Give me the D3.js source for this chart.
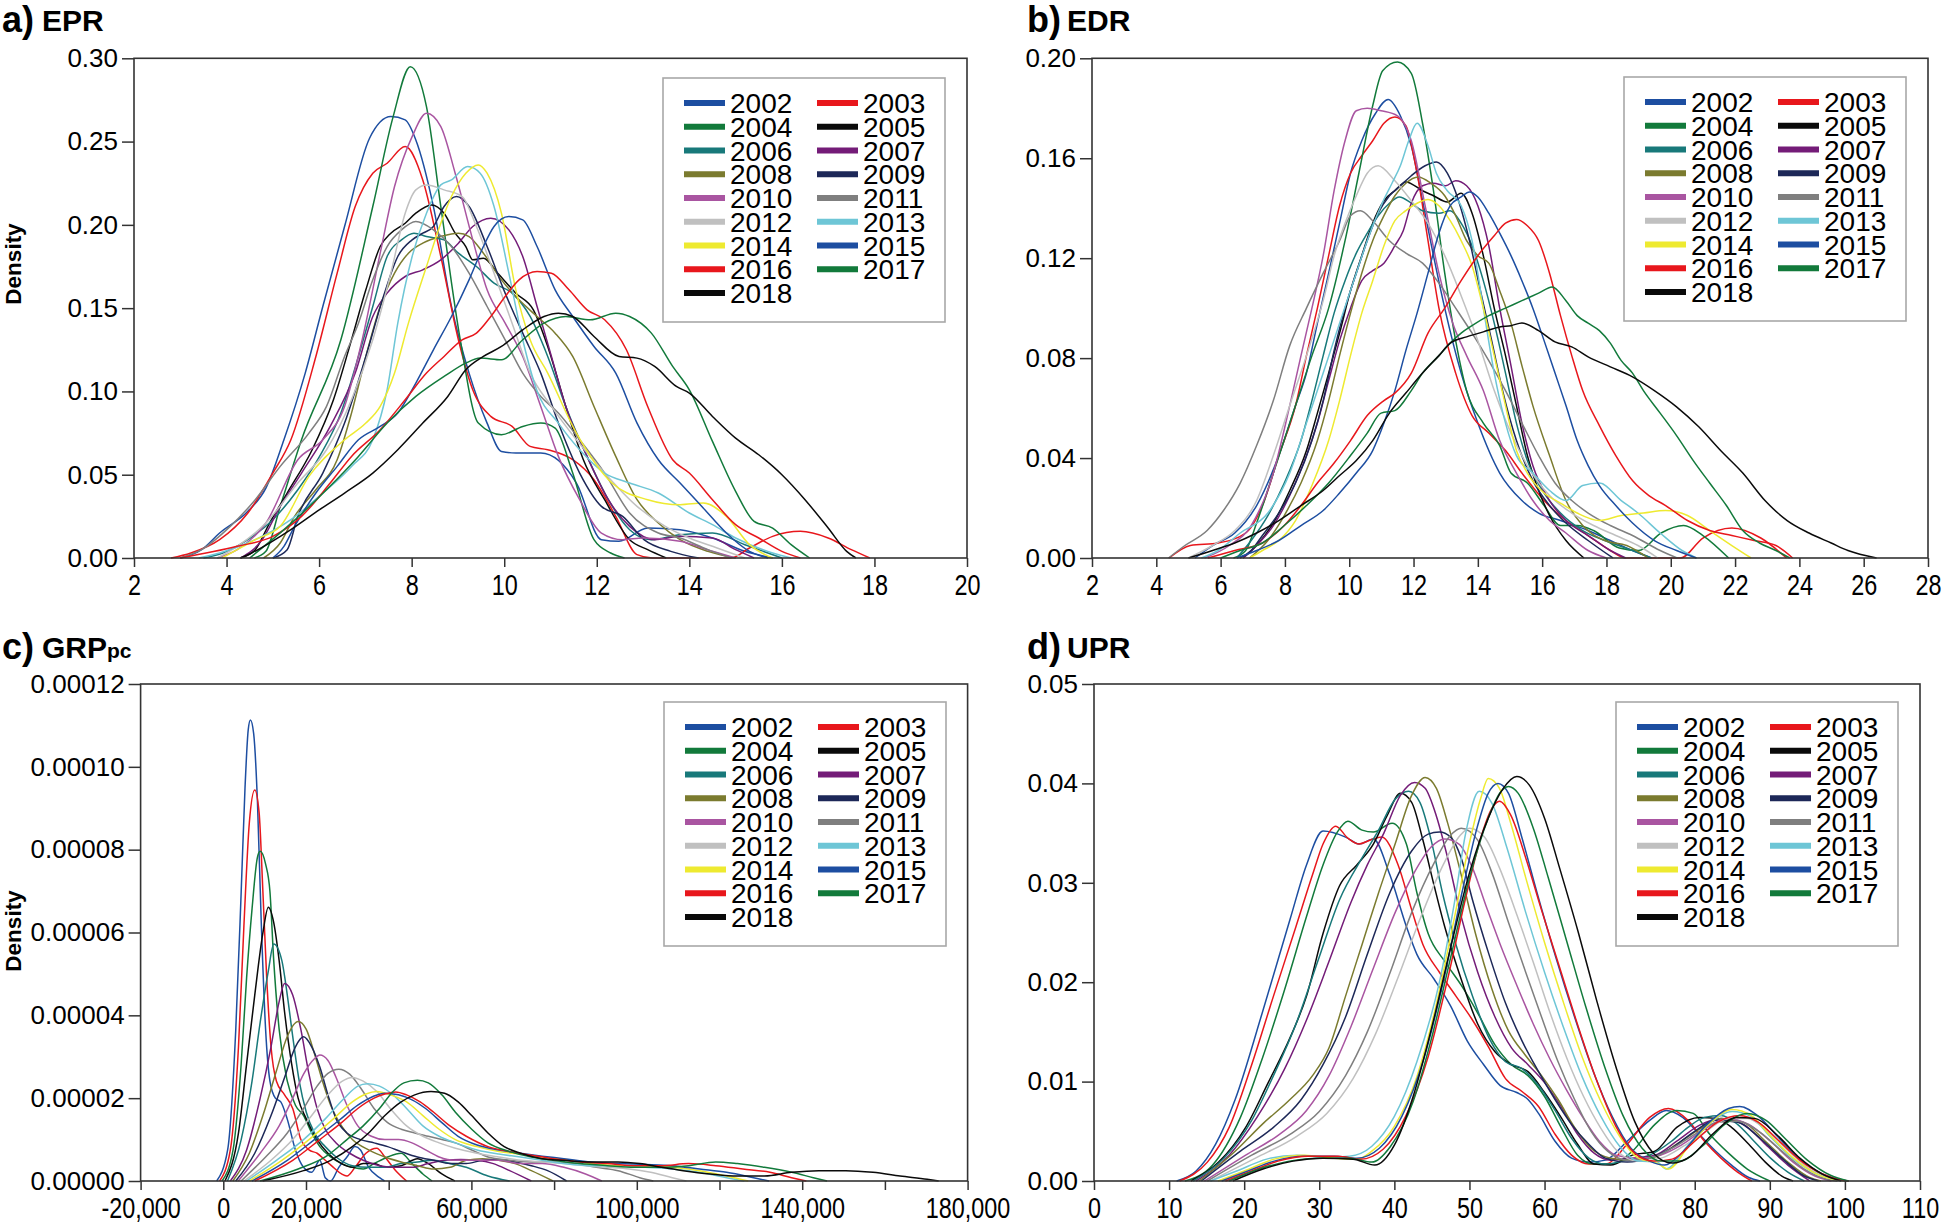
<!DOCTYPE html>
<html><head><meta charset="utf-8">
<script src="https://cdn.jsdelivr.net/npm/d3@7"></script>
<style>
body{margin:0;background:#fff;}
svg{display:block;}
text{font-family:"Liberation Sans",Arial,sans-serif;}
</style></head><body>
<svg id="chart" width="1946" height="1226"></svg>
<script>
const years = [2002,2003,2004,2005,2006,2007,2008,2009,2010,2011,2012,2013,2014,2015,2016,2017,2018];
const yearColors = ["#1d4ea1","#e8171c","#127a3b","#0a0a0a","#18797a","#741c78","#7b7b2f","#1d2858","#a955a1","#7f7f7f","#c0c0c0","#6ec6d6","#eeea30","#1d4ea1","#e8171c","#127a3b","#0a0a0a"];

// ---- a) EPR : [x, density]
const eprXTicks = [2,4,6,8,10,12,14,16,18,20];
const eprYTicks = [0,0.05,0.10,0.15,0.20,0.25,0.30];
const eprCurves = [
[[3.0,0],[3.46,0.005],[3.85,0.015],[4.46,0.028],[4.85,0.042],[5.24,0.071],[5.7,0.111],[6.08,0.151],[6.55,0.199],[7.09,0.252],[7.55,0.265],[7.86,0.263],[8.09,0.251],[8.47,0.211],[8.86,0.151],[9.24,0.111],[9.63,0.081],[9.94,0.064],[10.25,0.063],[10.79,0.063],[11.56,0.045],[12.1,0.011],[12.48,0.010],[13.1,0.018],[13.8,0.017],[14.5,0.012],[15.2,0.004],[15.8,0]],
[[2.8,0],[3.23,0.003],[3.85,0.011],[4.46,0.027],[5.0,0.051],[5.39,0.071],[5.93,0.121],[6.39,0.171],[6.78,0.211],[7.16,0.231],[7.47,0.237],[7.86,0.247],[8.24,0.227],[8.63,0.181],[9.01,0.131],[9.32,0.101],[9.71,0.085],[10.17,0.079],[10.56,0.067],[10.94,0.065],[11.48,0.059],[11.94,0.047],[12.41,0.025],[12.87,0.002],[13.2,0],[14.9,0],[15.3,0.006],[15.8,0.013],[16.4,0.016],[17.0,0.012],[17.5,0.005],[17.9,0]],
[[4.6,0],[4.85,0.004],[5.16,0.031],[5.62,0.071],[6.47,0.131],[7.16,0.211],[7.6,0.265],[7.97,0.295],[8.32,0.271],[8.63,0.211],[9.05,0.131],[9.44,0.081],[9.94,0.074],[10.4,0.079],[10.79,0.081],[11.1,0.078],[11.48,0.051],[11.94,0.011],[12.3,0.003],[12.6,0]],
[[4.3,0],[4.62,0.005],[4.93,0.021],[5.31,0.039],[5.85,0.065],[6.31,0.095],[6.7,0.131],[7.01,0.161],[7.32,0.187],[7.55,0.195],[7.86,0.201],[8.09,0.207],[8.43,0.212],[8.7,0.207],[8.94,0.195],[9.17,0.187],[9.32,0.179],[9.55,0.18],[9.86,0.171],[10.25,0.159],[10.63,0.149],[10.94,0.127],[11.33,0.091],[11.71,0.059],[12.17,0.035],[12.71,0.011],[13.1,0.005],[13.5,0]],
[[3.5,0],[3.92,0.003],[4.46,0.011],[5.0,0.023],[5.54,0.041],[6.01,0.061],[6.47,0.087],[6.85,0.121],[7.16,0.151],[7.47,0.181],[7.78,0.191],[8.05,0.195],[8.32,0.193],[8.7,0.191],[9.01,0.183],[9.4,0.175],[9.78,0.165],[10.17,0.159],[10.56,0.145],[10.94,0.121],[11.33,0.091],[11.79,0.061],[12.25,0.035],[12.71,0.017],[13.18,0.011],[13.8,0.014],[14.5,0.015],[15.2,0.008],[16.0,0]],
[[4.3,0],[4.77,0.011],[5.16,0.031],[5.62,0.051],[6.24,0.079],[6.78,0.111],[7.16,0.145],[7.47,0.159],[7.86,0.169],[8.24,0.173],[8.63,0.179],[9.01,0.189],[9.32,0.199],[9.71,0.204],[10.1,0.197],[10.4,0.181],[10.71,0.151],[11.02,0.121],[11.33,0.091],[11.79,0.061],[12.25,0.035],[12.71,0.019],[13.25,0.011],[13.8,0.013],[14.5,0.012],[15.0,0.005],[15.4,0]],
[[4.8,0],[5.16,0.009],[5.47,0.025],[5.93,0.041],[6.39,0.059],[6.7,0.087],[7.01,0.121],[7.32,0.151],[7.63,0.171],[7.93,0.183],[8.24,0.189],[8.63,0.193],[9.01,0.195],[9.24,0.193],[9.55,0.183],[9.94,0.167],[10.32,0.155],[10.71,0.145],[11.1,0.135],[11.48,0.121],[11.94,0.091],[12.41,0.061],[12.87,0.035],[13.33,0.021],[13.8,0.011],[14.4,0.004],[15.0,0]],
[[5.0,0],[5.31,0.005],[5.54,0.025],[6.08,0.051],[6.55,0.081],[7.01,0.121],[7.39,0.157],[7.7,0.181],[8.01,0.191],[8.24,0.195],[8.47,0.199],[8.7,0.211],[8.97,0.217],[9.24,0.211],[9.63,0.187],[10.02,0.159],[10.4,0.135],[10.79,0.111],[11.17,0.081],[11.63,0.051],[12.1,0.031],[12.56,0.025],[13.02,0.011],[13.6,0.004],[14.2,0]],
[[3.8,0],[4.23,0.005],[4.85,0.021],[5.54,0.059],[6.08,0.071],[6.55,0.091],[6.93,0.131],[7.32,0.183],[7.63,0.223],[8.01,0.253],[8.32,0.267],[8.63,0.259],[8.94,0.231],[9.32,0.191],[9.63,0.161],[10.02,0.141],[10.4,0.121],[10.79,0.091],[11.17,0.061],[11.63,0.035],[12.1,0.015],[12.56,0.011],[13.0,0.012],[13.8,0.010],[14.5,0.004],[15.0,0]],
[[3.0,0],[3.46,0.005],[4.08,0.019],[4.62,0.035],[5.16,0.055],[5.78,0.075],[6.16,0.091],[6.55,0.121],[6.85,0.141],[7.16,0.167],[7.47,0.187],[7.78,0.197],[8.09,0.202],[8.47,0.197],[8.86,0.187],[9.24,0.171],[9.63,0.151],[10.02,0.131],[10.4,0.111],[10.79,0.097],[11.17,0.087],[11.63,0.071],[12.17,0.051],[12.71,0.027],[13.33,0.015],[13.8,0.012],[14.4,0.005],[14.9,0]],
[[3.8,0],[4.23,0.007],[4.85,0.021],[5.54,0.045],[6.16,0.065],[6.7,0.095],[7.16,0.131],[7.55,0.171],[7.86,0.207],[8.09,0.221],[8.32,0.224],[8.7,0.221],[9.09,0.217],[9.4,0.199],[9.78,0.171],[10.17,0.141],[10.56,0.111],[11.02,0.091],[11.56,0.071],[12.17,0.051],[12.87,0.031],[13.48,0.019],[14.0,0.012],[14.6,0.006],[15.2,0]],
[[3.4,0],[3.85,0.003],[4.62,0.011],[5.39,0.023],[6.08,0.039],[6.7,0.055],[7.16,0.071],[7.47,0.101],[7.7,0.141],[8.01,0.181],[8.32,0.207],[8.63,0.224],[8.86,0.227],[9.21,0.235],[9.48,0.231],[9.78,0.211],[10.1,0.171],[10.4,0.131],[10.7,0.101],[11.17,0.081],[11.63,0.065],[12.17,0.051],[12.71,0.045],[13.33,0.039],[14.0,0.027],[14.5,0.02],[15.0,0.012],[15.8,0.003],[16.2,0]],
[[3.9,0],[4.23,0.005],[4.62,0.011],[5.16,0.019],[5.78,0.049],[6.55,0.071],[7.01,0.081],[7.32,0.091],[7.63,0.111],[7.93,0.141],[8.32,0.175],[8.63,0.201],[8.86,0.217],[9.17,0.231],[9.44,0.236],[9.63,0.231],[9.94,0.207],[10.25,0.161],[10.56,0.131],[10.94,0.111],[11.56,0.075],[12.33,0.045],[13.1,0.035],[13.8,0.032],[14.3,0.033],[14.8,0.025],[15.3,0.008],[15.8,0]],
[[5.0,0],[5.24,0.007],[5.47,0.019],[5.93,0.039],[6.39,0.055],[6.85,0.071],[7.32,0.079],[7.7,0.087],[8.09,0.105],[8.47,0.125],[8.86,0.145],[9.24,0.167],[9.55,0.187],[9.78,0.199],[10.1,0.205],[10.4,0.203],[10.71,0.187],[11.1,0.161],[11.48,0.145],[11.94,0.127],[12.41,0.111],[12.87,0.081],[13.33,0.059],[13.8,0.045],[14.3,0.03],[14.8,0.015],[15.3,0.004],[15.7,0]],
[[3.0,0],[4.23,0.007],[5.0,0.013],[5.62,0.025],[6.24,0.045],[6.7,0.061],[7.32,0.077],[7.86,0.095],[8.32,0.111],[8.7,0.121],[9.09,0.131],[9.4,0.135],[9.71,0.145],[10.02,0.157],[10.32,0.167],[10.71,0.172],[11.02,0.171],[11.4,0.161],[11.79,0.149],[12.17,0.143],[12.64,0.125],[13.1,0.091],[13.64,0.059],[14.0,0.051],[14.5,0.035],[15.0,0.02],[15.5,0.012],[16.0,0.004],[16.4,0]],
[[4.5,0],[5.24,0.017],[6.16,0.041],[6.85,0.061],[7.47,0.081],[8.09,0.097],[8.7,0.109],[9.17,0.117],[9.48,0.120],[9.94,0.119],[10.4,0.131],[10.86,0.141],[11.33,0.145],[11.86,0.143],[12.41,0.147],[12.71,0.145],[13.18,0.135],[13.64,0.115],[14.0,0.101],[14.5,0.07],[15.0,0.04],[15.4,0.022],[15.8,0.018],[16.2,0.008],[16.6,0]],
[[4.3,0],[4.54,0.003],[5.39,0.017],[6.01,0.029],[6.55,0.039],[7.16,0.051],[7.7,0.065],[8.24,0.081],[8.78,0.097],[9.17,0.113],[9.55,0.121],[9.94,0.127],[10.4,0.137],[10.86,0.145],[11.17,0.147],[11.48,0.145],[11.94,0.133],[12.48,0.121],[12.87,0.12],[13.25,0.115],[13.72,0.103],[14.0,0.099],[14.5,0.085],[15.0,0.072],[15.5,0.062],[16.0,0.05],[16.5,0.035],[17.0,0.018],[17.4,0.004],[17.6,0]]
];

// ---- b) EDR : [x, density]
const edrXTicks = [2,4,6,8,10,12,14,16,18,20,22,24,26,28];
const edrYTicks = [0,0.04,0.08,0.12,0.16,0.20];
const edrCurves = [
[[5.2,0],[5.75,0.005],[6.44,0.01],[7.12,0.021],[7.81,0.041],[8.33,0.061],[8.67,0.074],[9.01,0.094],[9.36,0.114],[9.7,0.134],[10.04,0.154],[10.39,0.167],[10.82,0.178],[11.21,0.1835],[11.59,0.177],[11.93,0.165],[12.28,0.143],[12.62,0.121],[12.97,0.1],[13.48,0.074],[14.0,0.054],[14.68,0.034],[15.37,0.023],[15.89,0.018],[16.57,0.015],[17.43,0.011],[18.12,0.007],[18.81,0.003],[19.4,0]],
[[4.4,0],[5.06,0.005],[5.92,0.006],[6.78,0.01],[7.3,0.021],[7.81,0.041],[8.33,0.061],[8.67,0.081],[9.01,0.1],[9.36,0.121],[9.7,0.141],[10.04,0.154],[10.39,0.161],[10.73,0.167],[11.08,0.174],[11.42,0.1765],[11.76,0.173],[12.11,0.154],[12.45,0.127],[12.79,0.1],[13.31,0.074],[13.82,0.057],[14.34,0.05],[14.86,0.043],[15.37,0.034],[16.06,0.023],[16.74,0.015],[17.43,0.009],[18.12,0.003],[18.6,0],[20.3,0],[21.0,0.008],[21.9,0.012],[22.8,0.008],[23.6,0]],
[[6.4,0],[6.78,0.003],[7.12,0.014],[7.64,0.034],[8.33,0.061],[8.84,0.081],[9.36,0.1],[9.87,0.127],[10.3,0.154],[10.73,0.181],[11.04,0.195],[11.5,0.1985],[11.93,0.194],[12.28,0.174],[12.62,0.147],[12.97,0.114],[13.31,0.087],[13.65,0.067],[14.17,0.054],[14.68,0.045],[15.03,0.034],[15.54,0.03],[16.06,0.021],[16.57,0.013],[17.09,0.013],[17.6,0.011],[18.4,0.004],[19.0,0.003],[19.7,0.01],[20.4,0.013],[21.0,0.009],[21.8,0]],
[[6.7,0],[7.12,0.005],[7.64,0.014],[8.15,0.027],[8.67,0.043],[9.01,0.058],[9.36,0.074],[9.7,0.09],[10.04,0.107],[10.39,0.121],[10.73,0.134],[11.08,0.143],[11.42,0.147],[11.76,0.1505],[12.28,0.147],[12.62,0.145],[13.05,0.1425],[13.48,0.146],[13.82,0.138],[14.17,0.121],[14.51,0.1],[14.86,0.081],[15.2,0.061],[15.54,0.041],[15.89,0.027],[16.23,0.017],[16.74,0.007],[17.3,0]],
[[6.5,0],[6.95,0.007],[7.47,0.017],[7.98,0.03],[8.5,0.047],[8.84,0.063],[9.19,0.081],[9.53,0.098],[9.87,0.111],[10.22,0.122],[10.56,0.13],[10.9,0.137],[11.25,0.142],[11.56,0.1445],[11.93,0.142],[12.28,0.139],[12.79,0.138],[13.14,0.139],[13.48,0.134],[13.82,0.125],[14.17,0.111],[14.51,0.094],[14.86,0.074],[15.2,0.054],[15.54,0.039],[16.06,0.026],[16.57,0.018],[17.26,0.011],[17.95,0.007],[18.81,0.003],[19.4,0]],
[[6.7,0],[7.12,0.005],[7.64,0.013],[8.15,0.025],[8.67,0.041],[9.01,0.054],[9.36,0.071],[9.7,0.087],[10.04,0.1],[10.39,0.111],[10.73,0.115],[11.08,0.118],[11.42,0.125],[11.68,0.131],[11.93,0.142],[12.28,0.149],[12.62,0.15],[13.0,0.149],[13.31,0.151],[13.65,0.149],[14.0,0.141],[14.34,0.125],[14.68,0.1],[15.03,0.077],[15.37,0.054],[15.71,0.037],[16.23,0.023],[16.74,0.015],[17.43,0.009],[18.12,0.003],[18.6,0]],
[[6.9,0],[7.47,0.007],[7.98,0.017],[8.5,0.03],[9.01,0.047],[9.36,0.063],[9.7,0.081],[10.04,0.098],[10.39,0.114],[10.73,0.127],[11.08,0.137],[11.42,0.145],[11.76,0.15],[12.14,0.1525],[12.54,0.15],[12.97,0.145],[13.31,0.137],[13.65,0.127],[14.0,0.121],[14.34,0.118],[14.68,0.107],[15.03,0.094],[15.37,0.077],[15.71,0.061],[16.23,0.041],[16.74,0.023],[17.26,0.013],[17.95,0.007],[18.63,0.005],[19.3,0]],
[[6.6,0],[6.95,0.003],[7.3,0.009],[7.81,0.018],[8.33,0.03],[8.84,0.047],[9.19,0.063],[9.53,0.083],[9.87,0.1],[10.22,0.114],[10.56,0.127],[10.9,0.138],[11.25,0.145],[11.59,0.149],[11.93,0.153],[12.36,0.157],[12.71,0.1585],[13.05,0.154],[13.4,0.143],[13.74,0.127],[14.08,0.107],[14.43,0.087],[14.77,0.067],[15.2,0.047],[15.71,0.031],[16.23,0.021],[16.74,0.014],[17.43,0.007],[18.2,0]],
[[5.5,0],[6.27,0.005],[6.95,0.013],[7.64,0.034],[8.15,0.061],[8.5,0.081],[8.84,0.1],[9.19,0.121],[9.53,0.147],[9.87,0.167],[10.22,0.179],[10.56,0.18],[10.99,0.179],[11.5,0.177],[11.93,0.167],[12.36,0.141],[12.79,0.114],[13.22,0.094],[13.65,0.081],[14.17,0.067],[14.68,0.047],[15.2,0.034],[15.71,0.023],[16.23,0.015],[16.74,0.01],[17.43,0.003],[18.0,0]],
[[4.38,0],[4.89,0.005],[5.58,0.011],[6.09,0.019],[6.61,0.03],[7.12,0.045],[7.64,0.063],[8.15,0.085],[8.67,0.1],[9.19,0.114],[9.7,0.127],[10.04,0.137],[10.35,0.139],[10.73,0.135],[11.25,0.127],[11.76,0.122],[12.28,0.118],[12.79,0.11],[13.31,0.1],[13.82,0.09],[14.34,0.079],[14.86,0.067],[15.37,0.054],[15.89,0.041],[16.4,0.03],[16.92,0.023],[17.43,0.018],[18.12,0.013],[18.81,0.009],[19.67,0.003],[20.2,0]],
[[5.0,0],[5.75,0.005],[6.44,0.011],[7.12,0.023],[7.64,0.041],[8.15,0.061],[8.67,0.081],[9.19,0.103],[9.53,0.121],[9.87,0.134],[10.22,0.145],[10.56,0.154],[10.9,0.157],[11.42,0.151],[11.93,0.143],[12.45,0.134],[12.97,0.121],[13.48,0.105],[14.0,0.087],[14.51,0.067],[15.03,0.05],[15.54,0.037],[16.23,0.025],[16.92,0.018],[17.6,0.013],[18.29,0.009],[18.98,0.005],[19.6,0]],
[[5.4,0],[5.92,0.003],[6.61,0.01],[7.47,0.018],[8.15,0.034],[8.67,0.054],[9.19,0.074],[9.7,0.094],[10.22,0.114],[10.56,0.127],[10.99,0.141],[11.33,0.15],[11.59,0.157],[11.85,0.167],[12.11,0.174],[12.45,0.165],[12.71,0.154],[13.05,0.147],[13.48,0.141],[13.82,0.127],[14.17,0.1],[14.51,0.074],[14.86,0.054],[15.2,0.041],[15.71,0.034],[16.23,0.027],[16.74,0.023],[17.26,0.029],[17.78,0.03],[18.46,0.023],[18.98,0.018],[19.67,0.01],[20.35,0.003],[20.8,0]],
[[6.9,0],[7.3,0.003],[7.81,0.007],[8.33,0.015],[8.84,0.029],[9.36,0.047],[9.7,0.063],[10.04,0.081],[10.39,0.098],[10.73,0.111],[11.08,0.125],[11.42,0.135],[11.76,0.139],[12.11,0.142],[12.45,0.1435],[12.79,0.141],[13.14,0.135],[13.48,0.127],[13.82,0.117],[14.17,0.1],[14.51,0.081],[14.86,0.061],[15.2,0.043],[15.54,0.034],[16.06,0.026],[16.57,0.022],[17.09,0.018],[17.78,0.015],[18.46,0.017],[19.15,0.018],[19.84,0.019],[20.52,0.017],[21.21,0.011],[21.9,0.005],[22.5,0]],
[[6.5,0],[7.12,0.003],[7.81,0.007],[8.5,0.013],[9.19,0.019],[9.7,0.026],[10.22,0.034],[10.73,0.043],[11.08,0.054],[11.42,0.067],[11.76,0.083],[12.11,0.098],[12.45,0.114],[12.79,0.13],[13.14,0.141],[13.48,0.1445],[13.74,0.1465],[14.0,0.1445],[14.34,0.138],[14.68,0.13],[15.03,0.121],[15.37,0.111],[15.71,0.1],[16.06,0.087],[16.4,0.074],[16.74,0.061],[17.09,0.047],[17.43,0.037],[17.78,0.029],[18.29,0.021],[18.81,0.014],[19.49,0.007],[20.18,0.003],[20.8,0]],
[[5.6,0],[6.44,0.003],[7.3,0.006],[7.98,0.013],[8.5,0.021],[9.01,0.03],[9.53,0.038],[10.04,0.047],[10.56,0.057],[11.08,0.063],[11.42,0.066],[11.93,0.074],[12.45,0.09],[12.97,0.1],[13.48,0.111],[14.0,0.121],[14.51,0.129],[14.86,0.134],[15.2,0.1355],[15.54,0.133],[15.89,0.127],[16.23,0.114],[16.57,0.097],[16.92,0.081],[17.26,0.067],[17.78,0.053],[18.29,0.041],[18.81,0.031],[19.32,0.025],[19.84,0.021],[20.52,0.015],[21.21,0.011],[21.9,0.009],[22.59,0.007],[23.27,0.005],[23.79,0]],
[[6.0,0],[6.61,0.003],[7.3,0.006],[7.98,0.013],[8.67,0.021],[9.36,0.03],[10.04,0.041],[10.56,0.05],[10.99,0.058],[11.42,0.059],[11.93,0.067],[12.28,0.074],[12.79,0.081],[13.14,0.086],[13.48,0.09],[13.82,0.093],[14.34,0.097],[14.86,0.1],[15.37,0.103],[15.89,0.106],[16.31,0.1085],[16.74,0.103],[17.09,0.097],[17.43,0.094],[17.78,0.091],[18.12,0.086],[18.46,0.079],[18.81,0.074],[19.15,0.067],[19.67,0.058],[20.18,0.049],[20.7,0.039],[21.21,0.03],[21.73,0.021],[22.24,0.011],[22.76,0.006],[23.27,0.003],[23.7,0]],
[[5.0,0],[5.75,0.003],[6.44,0.006],[7.12,0.01],[7.81,0.015],[8.5,0.021],[9.19,0.027],[9.7,0.033],[10.22,0.039],[10.73,0.047],[11.25,0.058],[11.76,0.066],[12.28,0.074],[12.79,0.081],[13.14,0.086],[13.65,0.0885],[14.17,0.0905],[14.68,0.0925],[15.03,0.093],[15.37,0.0941],[15.89,0.091],[16.4,0.0865],[16.92,0.0845],[17.43,0.0805],[18.12,0.0765],[18.81,0.0725],[19.49,0.067],[20.18,0.0605],[20.87,0.0525],[21.55,0.043],[22.24,0.034],[22.93,0.023],[23.62,0.015],[24.3,0.01],[24.99,0.006],[25.51,0.003],[26.4,0]]
];

// ---- c) GRPpc : [x, density in units of 1e-5]
const grpXTicks = [-20000,0,20000,40000,60000,80000,100000,120000,140000,160000,180000];
const grpXLabelled = [-20000,0,20000,60000,100000,140000,180000];
const grpYTicks = [0,0.00002,0.00004,0.00006,0.00008,0.00010,0.00012];
const grpYUnit = 1e-5;
const grpCurves = [
[[-1600,0],[1049,0.75],[3016,3.66],[4328,6.99],[5246,9.48],[6033,10.9],[6558,11.13],[7344,10.8],[8262,9.15],[9180,6.24],[10230,3.66],[11279,2.41],[12590,2.0],[13902,1.91],[15450,1.5],[17443,0.75],[19410,0.33],[21377,0.21],[23345,0.5],[24656,0.08],[25968,0],[27936,0.33],[29903,0.58],[31870,0.83],[33183,0.75],[35150,0.33],[37800,0.08],[39000,0]],
[[-900,0],[1705,0.75],[3672,3.24],[4984,6.16],[6295,8.65],[7607,9.44],[8656,8.9],[9574,6.99],[10492,4.91],[11541,3.24],[12853,2.41],[14820,2.08],[16787,1.75],[18755,1.0],[20722,0.75],[22689,0.67],[24656,0.5],[26623,0.33],[28590,0.17],[29903,0.12],[31870,0.33],[34493,0.67],[37115,0.79],[39082,0.58],[41706,0.25],[44329,0]],
[[-300,0],[2361,0.75],[4328,2.83],[5639,4.91],[6951,6.57],[8262,7.82],[8918,7.96],[10230,7.65],[11279,6.99],[12197,5.32],[13508,3.66],[15476,2.41],[17443,1.83],[19410,1.58],[21377,1.16],[23345,0.83],[25968,0.58],[28590,0.42],[31213,0.33],[33836,0.29],[36459,0.42],[39738,0.58],[43017,0.67],[45640,0.42],[48263,0.17],[50500,0]],
[[400,0],[3672,1.16],[5639,2.83],[7607,4.49],[9574,5.99],[10885,6.61],[12197,6.24],[13508,5.32],[14820,4.08],[16525,2.83],[18099,2.0],[20066,1.5],[22689,1.0],[25312,0.67],[28590,0.42],[31213,0.33],[33836,0.42],[36459,0.42],[39082,0.33],[43017,0.37],[46951,0.54],[49574,0.42],[52853,0.17],[56000,0]],
[[1000,0],[4328,1.0],[6951,2.41],[8918,3.83],[10885,5.07],[12197,5.72],[14164,5.32],[15476,4.49],[16787,3.49],[18361,2.41],[20066,1.66],[22033,1.16],[24656,0.83],[27280,0.58],[31213,0.37],[35148,0.33],[39082,0.33],[43017,0.42],[46951,0.46],[50886,0.5],[54821,0.42],[58755,0.33],[64001,0.12],[69247,0]],
[[1700,0],[5639,0.75],[8918,2.0],[11541,3.24],[13508,4.33],[14820,4.77],[16787,4.49],[18755,3.66],[20722,2.58],[22689,1.75],[24656,1.25],[27280,0.92],[30558,0.67],[33836,0.5],[37771,0.37],[41706,0.33],[45640,0.33],[49574,0.42],[53509,0.5],[57443,0.52],[61378,0.5],[65312,0.42],[69247,0.25],[74493,0]],
[[2300,0],[6295,0.67],[9574,1.58],[12853,2.66],[15476,3.49],[18099,3.85],[20066,3.66],[22033,3.08],[24000,2.41],[25968,1.83],[28590,1.33],[31213,1.0],[35148,0.75],[39082,0.58],[43017,0.46],[46951,0.37],[50886,0.29],[54821,0.33],[58755,0.5],[62689,0.54],[66624,0.5],[70558,0.42],[74493,0.25],[79739,0]],
[[3000,0],[7607,0.67],[11541,1.58],[14820,2.5],[17443,3.24],[19410,3.48],[21377,3.24],[23345,2.75],[25312,2.08],[27280,1.5],[29903,1.16],[33183,1.0],[36459,0.92],[39738,0.83],[43017,0.71],[46951,0.58],[50886,0.5],[54821,0.42],[58755,0.42],[62689,0.5],[66624,0.52],[70558,0.46],[74493,0.37],[78428,0.25],[83018,0]],
[[3600,0],[8918,0.67],[13508,1.33],[16787,2.0],[19410,2.58],[22033,2.95],[23345,3.04],[25312,2.91],[27280,2.5],[29903,1.83],[32525,1.33],[35804,1.08],[39082,1.0],[42361,1.0],[45640,0.92],[48919,0.75],[52198,0.58],[56132,0.5],[61378,0.5],[66624,0.5],[71870,0.42],[77116,0.42],[82362,0.33],[87607,0.17],[91542,0]],
[[4300,0],[10230,0.58],[15476,1.16],[19410,1.75],[22689,2.29],[25312,2.6],[27935,2.7],[30558,2.58],[33183,2.25],[36459,1.75],[39738,1.41],[43017,1.25],[46296,1.16],[49574,1.08],[52853,1.0],[56132,0.92],[60067,0.75],[64001,0.58],[69247,0.5],[74493,0.46],[79739,0.46],[84985,0.42],[90231,0.33],[95477,0.25],[100723,0.08],[104000,0]],
[[5000,0],[11541,0.5],[16787,1.0],[21377,1.58],[25312,2.08],[28590,2.4],[31213,2.5],[33836,2.41],[37115,2.16],[40394,1.75],[44329,1.33],[48263,1.08],[52198,0.92],[56132,0.79],[61378,0.67],[66624,0.58],[71870,0.5],[77116,0.46],[82362,0.42],[87607,0.37],[92853,0.33],[98099,0.29],[103344,0.21],[108590,0.08],[112000,0]],
[[5600,0],[12853,0.5],[19410,1.0],[24656,1.5],[29246,2.0],[32525,2.29],[34886,2.35],[37771,2.29],[41050,2.08],[44329,1.75],[48263,1.33],[52198,1.08],[56132,0.92],[61378,0.75],[66624,0.65],[71870,0.58],[77116,0.5],[82362,0.42],[88919,0.37],[95477,0.37],[102034,0.33],[108590,0.29],[115147,0.21],[121704,0.08],[126000,0]],
[[6300,0],[14164,0.5],[20722,1.0],[26623,1.5],[31213,1.91],[34493,2.1],[37115,2.16],[40394,2.08],[44329,1.91],[48263,1.58],[52198,1.25],[56132,1.0],[61378,0.83],[66624,0.71],[71870,0.65],[77116,0.58],[82362,0.52],[88919,0.42],[95477,0.37],[102034,0.37],[108590,0.33],[115147,0.25],[121704,0.12],[126950,0]],
[[6900,0],[15476,0.5],[22033,1.0],[27935,1.46],[32525,1.83],[36197,2.04],[39082,2.12],[42361,2.08],[45640,1.96],[48919,1.75],[52853,1.41],[56787,1.08],[61378,0.87],[66624,0.75],[71870,0.67],[77116,0.6],[82362,0.54],[88919,0.46],[95477,0.42],[102034,0.4],[108590,0.37],[115147,0.29],[121704,0.21],[128262,0.08],[132000,0]],
[[7600,0],[16787,0.5],[23345,1.0],[28590,1.41],[32525,1.75],[36459,2.0],[39082,2.1],[41706,2.15],[44329,2.08],[47607,1.91],[50886,1.66],[54821,1.33],[58755,1.08],[64001,0.83],[69247,0.71],[74493,0.62],[79739,0.54],[86296,0.46],[92853,0.42],[99410,0.37],[105967,0.37],[112524,0.42],[119081,0.37],[125638,0.29],[132196,0.21],[137442,0.08],[141000,0]],
[[8900,0],[18099,0.29],[24656,0.58],[29903,1.0],[33836,1.33],[37771,1.75],[41050,2.16],[43673,2.37],[46951,2.43],[49574,2.37],[52853,2.08],[56132,1.66],[60067,1.25],[64001,0.92],[69247,0.71],[74493,0.58],[79739,0.5],[86296,0.42],[92853,0.37],[99410,0.33],[105967,0.33],[112524,0.37],[119081,0.46],[124327,0.42],[130884,0.33],[137442,0.21],[142688,0.08],[146000,0]],
[[9500,0],[19410,0.25],[25968,0.5],[31213,0.83],[35148,1.16],[39082,1.58],[43017,1.91],[46296,2.08],[50230,2.16],[53509,2.12],[56787,1.91],[60067,1.58],[64001,1.16],[67935,0.83],[71870,0.67],[77116,0.54],[82362,0.5],[88919,0.46],[95477,0.46],[100723,0.42],[105967,0.33],[111213,0.25],[117770,0.17],[124327,0.12],[130884,0.12],[137442,0.21],[144000,0.25],[150557,0.25],[157114,0.21],[163671,0.12],[170229,0.04],[173000,0]]
];

// ---- d) UPR : [x, density in units of 1e-3]
const uprXTicks = [0,10,20,30,40,50,60,70,80,90,100,110];
const uprYTicks = [0,0.01,0.02,0.03,0.04,0.05];
const uprYUnit = 1e-3;
const uprCurves = [
[[11,0],[13.6,1.0],[16.2,3.7],[18.8,8.2],[22.4,16.9],[26.1,26.3],[28.3,31.8],[30.5,35.2],[33.5,34.6],[35.3,33.9],[37.2,34.4],[39.4,30.8],[41.6,25.6],[43.0,22.8],[45.3,20.3],[47.5,17.6],[49.7,14.1],[51.9,11.7],[54.1,9.6],[56.3,8.9],[57.8,8.2],[59.2,6.8],[61.4,4.0],[63.6,2.3],[65.9,1.9],[68.1,2.1],[71.0,4.0],[74.0,6.1],[76.2,7.1],[78.4,6.4],[80.6,4.7],[82.8,3.0],[84.9,1.6],[87.2,0.35],[88.7,0]],
[[11.4,0],[15.1,1.9],[18.0,5.4],[21.0,11.7],[23.9,18.6],[26.9,25.6],[29.1,30.8],[30.5,33.9],[32.2,35.7],[33.8,34.5],[35.3,33.9],[36.8,34.3],[38.3,34.6],[40.5,31.8],[42.3,27.3],[43.8,23.8],[46.0,21.0],[48.2,18.6],[50.4,16.2],[52.6,13.4],[54.8,10.3],[57.0,9.0],[59.2,7.5],[61.4,4.7],[63.6,2.6],[65.9,1.7],[68.1,1.7],[71.0,3.7],[74.0,6.4],[76.5,7.3],[79.1,6.1],[81.3,4.0],[83.5,2.3],[85.7,0.9],[87.6,0]],
[[12.1,0],[15.8,1.6],[19.5,6.4],[22.4,12.3],[25.4,19.3],[28.3,26.6],[30.5,31.8],[32.4,35.1],[33.8,36.2],[35.7,35.3],[37.2,35.1],[39.7,36.0],[41.6,33.9],[43.0,29.0],[44.5,24.9],[46.7,22.1],[48.9,19.7],[51.1,16.9],[53.4,13.7],[55.6,11.7],[57.8,10.6],[60.0,8.5],[62.2,5.4],[64.4,2.6],[66.6,1.7],[68.8,1.7],[71.7,3.0],[74.7,5.7],[77.6,7.1],[79.8,6.8],[82.0,4.7],[84.5,2.8],[87.0,1.2],[90.0,0]],
[[12.9,0],[16.6,1.9],[20.2,5.4],[23.2,9.9],[26.1,14.4],[28.3,18.6],[30.5,24.9],[32.7,29.7],[35.0,31.8],[37.2,33.9],[39.0,36.7],[40.8,39.0],[42.3,38.1],[43.8,34.3],[45.3,29.7],[46.7,25.6],[48.9,20.3],[51.1,15.8],[53.4,13.0],[55.6,11.7],[57.8,11.0],[60.0,8.9],[62.2,6.4],[64.4,3.7],[66.6,1.7],[68.8,1.6],[71.7,2.6],[74.7,3.0],[77.6,5.4],[80.6,6.4],[82.8,6.3],[84.9,5.4],[87.2,3.7],[89.4,1.9],[91.6,0.5],[93.1,0]],
[[13.2,0],[17.3,2.3],[21.0,6.1],[23.9,10.6],[26.9,15.8],[29.8,22.1],[32.7,28.3],[35.7,32.5],[37.9,35.3],[40.1,38.4],[41.9,39.2],[43.4,38.1],[44.9,34.3],[46.4,29.0],[48.2,23.8],[50.4,18.6],[52.6,14.4],[54.8,12.0],[57.0,11.3],[59.2,9.6],[61.4,7.1],[63.6,4.3],[65.9,2.3],[68.1,1.7],[71.0,2.1],[74.0,2.6],[76.9,4.0],[79.1,5.4],[81.3,6.4],[83.5,6.6],[85.7,5.7],[87.9,4.0],[90.1,2.3],[92.4,0.9],[94.6,0]],
[[13.6,0],[18.0,2.6],[21.7,6.4],[25.4,11.3],[28.3,16.2],[31.3,22.1],[34.2,28.0],[36.4,31.8],[38.6,35.0],[40.8,38.8],[42.7,40.1],[44.1,39.5],[45.6,36.7],[47.1,32.5],[48.9,26.6],[51.1,21.0],[53.4,16.5],[55.6,13.4],[57.8,11.7],[60.0,9.9],[62.2,7.5],[64.4,4.7],[66.6,2.8],[68.8,2.1],[71.7,2.3],[74.7,2.6],[77.6,4.0],[80.6,5.6],[83.5,6.3],[86.5,5.7],[89.4,3.7],[92.4,1.6],[95.3,0]],
[[14.0,0],[18.8,3.0],[22.4,5.7],[26.1,8.2],[29.1,10.6],[31.3,13.4],[33.5,18.6],[35.7,23.8],[37.9,29.0],[40.1,33.9],[42.3,38.8],[44.1,40.6],[45.6,39.5],[47.1,36.0],[48.9,30.8],[50.8,24.9],[53.0,19.3],[55.2,15.1],[57.4,12.7],[59.6,10.6],[61.8,8.2],[64.0,5.4],[66.2,3.3],[68.8,2.3],[71.7,2.1],[74.7,2.4],[77.6,3.7],[80.6,5.2],[83.5,6.3],[86.5,5.9],[89.4,4.0],[92.4,1.9],[95.3,0.35],[96.8,0]],
[[14.3,0],[19.5,3.0],[23.9,5.4],[27.6,8.2],[30.5,11.7],[33.5,16.5],[36.4,22.8],[39.4,29.0],[42.3,33.2],[44.5,34.9],[46.0,35.1],[47.5,34.6],[48.9,32.5],[50.4,28.3],[52.6,22.8],[54.8,17.9],[57.0,14.1],[59.2,11.0],[61.4,8.2],[63.6,5.7],[65.9,3.7],[68.1,2.3],[71.0,1.9],[74.0,2.3],[76.9,3.3],[79.8,4.9],[82.8,6.1],[85.7,5.9],[88.7,4.3],[91.6,2.3],[94.6,0.5],[96.5,0]],
[[14.7,0],[20.2,2.6],[24.7,4.7],[28.3,7.1],[31.3,10.6],[34.2,15.5],[37.2,21.4],[40.1,27.0],[42.7,31.1],[44.9,33.6],[46.7,34.4],[48.6,33.9],[50.4,31.5],[52.2,27.7],[54.1,23.8],[56.3,19.7],[58.5,15.8],[60.7,12.3],[62.9,9.2],[65.1,6.4],[67.3,4.0],[69.5,2.6],[72.5,2.3],[75.4,2.6],[78.4,3.7],[81.3,5.2],[84.2,6.3],[87.2,5.7],[90.1,4.0],[93.1,1.9],[96.0,0.5],[98.2,0]],
[[15.1,0],[21.0,2.6],[26.1,4.7],[30.0,7.0],[33.5,10.6],[36.4,15.0],[39.4,20.9],[42.3,27.0],[45.3,32.0],[47.5,34.8],[48.9,35.5],[51.1,34.3],[53.0,31.0],[55.2,26.0],[57.4,21.2],[59.6,16.5],[61.8,12.0],[64.0,8.2],[66.2,5.0],[68.4,3.0],[71.0,2.1],[74.0,2.3],[77.0,3.3],[80.0,4.7],[83.0,5.9],[85.7,6.0],[88.7,4.9],[91.6,3.0],[94.6,1.2],[97.5,0.2],[99,0]],
[[15.5,0],[21.5,2.3],[27.0,4.5],[31.0,6.8],[34.5,10.3],[37.5,14.8],[40.5,20.5],[43.5,26.5],[46.5,31.8],[48.8,34.8],[50.0,35.5],[52.0,34.6],[54.0,31.5],[56.3,26.8],[58.5,22.0],[60.7,17.0],[63.0,12.3],[65.2,8.5],[67.5,5.3],[69.7,3.0],[72.5,2.0],[75.5,2.3],[78.5,3.5],[81.5,5.0],[84.5,6.3],[87.0,6.3],[89.7,5.0],[92.5,3.0],[95.5,1.1],[98.5,0.2],[100,0]],
[[15.5,0],[19,1.0],[23,2.2],[27,2.6],[31,2.4],[34,2.5],[37,3.5],[40,6.5],[43,12.0],[46,20.0],[48,28.0],[49.5,35.0],[51.3,39.2],[53,38.0],[55,33.5],[57.5,27.0],[60,21.0],[62.5,15.5],[65,10.5],[67.5,6.5],[70,3.5],[72.5,2.0],[75,1.9],[76.2,1.2],[79,3.5],[82,5.8],[85,7.0],[87.5,6.5],[90,4.5],[93,2.3],[96,0.8],[99,0.1],[100.5,0]],
[[16.5,0],[20,1.0],[24,2.2],[28,2.6],[32,2.3],[35,2.2],[37,3.0],[40,5.5],[43,10.5],[45.5,17.5],[48,26.5],[50,34.0],[51.5,38.5],[52.5,40.5],[54,39.5],[55.5,36.0],[57.5,30.5],[60,24.0],[62.5,18.0],[65,12.5],[67.5,8.0],[70,4.5],[72.5,2.3],[75,1.8],[76.5,1.2],[79,3.3],[82,5.8],[85,7.2],[87.5,6.6],[90,4.6],[93,2.4],[96,0.8],[99,0.1],[100.5,0]],
[[17,0],[20.5,1.0],[24,2.0],[28,2.5],[32,2.5],[35,2.3],[38,3.3],[41,6.5],[44,12.5],[46.5,20.0],[49,29.0],[51,35.5],[52.5,39.0],[53.8,40.0],[55.2,39.0],[57,34.5],[59,29.0],[61.5,22.5],[64,16.5],[66.5,11.0],[69,6.5],[71.5,3.3],[74,2.0],[76,1.6],[78.5,3.0],[81.5,5.6],[84.5,7.3],[86,7.5],[88.5,6.5],[91,4.5],[94,2.2],[97,0.7],[99.5,0.1],[100.5,0]],
[[17.5,0],[21,1.0],[24.5,2.0],[28.5,2.5],[32.5,2.5],[35.5,2.2],[38.5,3.2],[41.5,6.5],[44.5,12.5],[47,20.0],[49.5,28.5],[51.5,34.5],[53,37.5],[54,38.2],[55.5,36.8],[57.5,32.5],[59.5,27.5],[62,21.5],[64.5,15.5],[67,10.0],[69.5,5.5],[72,2.8],[74.5,2.0],[77,2.2],[80,4.0],[83,5.9],[86,6.6],[88.5,5.9],[91,4.2],[94,2.1],[97,0.7],[99.5,0.1],[100.5,0]],
[[18,0],[22,1.2],[26,2.0],[30,2.3],[34,2.3],[37,1.9],[39.5,3.5],[42.5,8.0],[45,14.5],[47.5,22.5],[50,30.5],[52.5,36.5],[54,39.0],[55.2,39.7],[56.5,39.0],[58.5,35.5],[60.5,30.5],[63,24.0],[65.5,17.5],[68,11.5],[70.5,6.5],[73,3.3],[75.5,2.0],[78,2.0],[81,3.5],[84,5.7],[87,6.8],[89.5,6.1],[92,4.3],[95,2.1],[98,0.6],[100.5,0]],
[[18.5,0],[22.5,1.2],[26.5,2.0],[30.5,2.3],[34.5,2.2],[37.4,1.6],[40,3.6],[42.5,8.5],[45,15.5],[47.5,23.5],[50,31.0],[52.5,36.5],[54.5,39.5],[56.3,40.7],[58,39.8],[60,36.5],[62,31.5],[64.5,25.0],[67,18.0],[69.5,11.5],[72,6.0],[74.5,2.8],[77,1.8],[79.5,2.5],[82.5,4.8],[85.5,6.4],[88,6.3],[91,4.6],[94,2.3],[97,0.7],[99.5,0]]
];

const fmtComma = d3.formatLocale({decimal:".",thousands:",",grouping:[3],currency:["",""],minus:"-"}).format(",");

const panels = [
  {label:"a)", name:"EPR", sub:"", curves:eprCurves, yUnit:1, xDomain:[2,20], yDomain:[0,0.30],
   xRange:[134,967], yRange:[558,58.3], xTicks:eprXTicks, xLabelled:eprXTicks, yTicks:eprYTicks, yFormat:d3.format(".2f"),
   legend:[663,78], title:[2,32], density:[21,264]},
  {label:"b)", name:"EDR", sub:"", curves:edrCurves, yUnit:1, xDomain:[2,28], yDomain:[0,0.20],
   xRange:[1092,1928], yRange:[558,58.3], xTicks:edrXTicks, xLabelled:edrXTicks, yTicks:edrYTicks, yFormat:d3.format(".2f"),
   legend:[1624,77], title:[1027,32], density:null},
  {label:"c)", name:"GRP", sub:"pc", curves:grpCurves, yUnit:grpYUnit, xDomain:[-20000,180000], yDomain:[0,0.00012],
   xRange:[140.6,967.6], yRange:[1181,684], xTicks:grpXTicks, xLabelled:grpXLabelled, yTicks:grpYTicks, yFormat:d3.format(".5f"),
   legend:[664,702], title:[2,659], density:[21,931]},
  {label:"d)", name:"UPR", sub:"", curves:uprCurves, yUnit:uprYUnit, xDomain:[0,110], yDomain:[0,0.05],
   xRange:[1094,1920], yRange:[1181,684], xTicks:uprXTicks, xLabelled:uprXTicks, yTicks:uprYTicks, yFormat:d3.format(".2f"),
   legend:[1616,702], title:[1027,659], density:null}
];

const svg = d3.select("#chart");
svg.append("rect").attr("width",1946).attr("height",1226).attr("fill","#fff");

panels.forEach(p => {
  const x = d3.scaleLinear().domain(p.xDomain).range(p.xRange);
  const y = d3.scaleLinear().domain(p.yDomain).range(p.yRange);
  const g = svg.append("g");

  const line = d3.line().x(d => x(d[0])).y(d => y(d[1]*p.yUnit)).curve(d3.curveMonotoneX);
  p.curves.forEach((c,i) => {
    g.append("path").attr("d", line(c)).attr("fill","none")
      .attr("stroke", yearColors[i]).attr("stroke-width",1.5).attr("stroke-linejoin","round");
  });

  // x axis
  const xa = g.append("g").attr("transform",`translate(0,${p.yRange[0]})`)
    .call(d3.axisBottom(x).tickValues(p.xTicks).tickSize(9).tickPadding(7).tickSizeOuter(0)
      .tickFormat(d => p.xLabelled.includes(d) ? fmtComma(d) : ""));
  xa.select(".domain").remove();
  xa.selectAll("line").attr("stroke","#333").attr("stroke-width",1.5);
  xa.selectAll("text").attr("font-size",30).attr("fill","#000")
    .attr("font-family","'Liberation Sans',Arial,sans-serif").attr("transform","scale(0.78,1)");

  // y axis
  const ya = g.append("g").attr("transform",`translate(${p.xRange[0]},0)`)
    .call(d3.axisLeft(y).tickValues(p.yTicks).tickSize(12).tickPadding(4).tickSizeOuter(0).tickFormat(p.yFormat));
  ya.select(".domain").remove();
  ya.selectAll("line").attr("stroke","#333").attr("stroke-width",1.5);
  ya.selectAll("text").attr("font-size",26).attr("fill","#000")
    .attr("font-family","'Liberation Sans',Arial,sans-serif");

  // frame
  g.append("rect").attr("x",p.xRange[0]).attr("y",p.yRange[1])
    .attr("width",p.xRange[1]-p.xRange[0]).attr("height",p.yRange[0]-p.yRange[1])
    .attr("fill","none").attr("stroke","#333").attr("stroke-width",1.6);

  // legend
  const lg = g.append("g").attr("transform",`translate(${p.legend[0]},${p.legend[1]})`);
  lg.append("rect").attr("width",282).attr("height",244).attr("fill","#fff")
    .attr("stroke","#a8a8a8").attr("stroke-width",1.6);
  years.forEach((yr,i) => {
    const col = i % 2, row = Math.floor(i/2);
    const x0 = 21 + col*133, yc = 25 + row*23.75;
    lg.append("rect").attr("x",x0).attr("y",yc-3).attr("width",41).attr("height",6).attr("fill",yearColors[i]);
    lg.append("text").attr("x",x0+46).attr("y",yc+10).attr("font-size",28).attr("fill","#000").text(yr);
  });

  // title
  svg.append("text").attr("x",p.title[0]).attr("y",p.title[1])
    .attr("font-weight","bold").attr("font-size",36).attr("fill","#000").text(p.label);
  const t = svg.append("text").attr("x",p.title[0]+40).attr("y",p.title[1]-1)
    .attr("font-weight","bold").attr("fill","#000");
  t.append("tspan").attr("font-size",30).text(p.name);
  if (p.sub) t.append("tspan").attr("font-size",21).text(p.sub);

  // density label
  if (p.density) {
    svg.append("text").attr("transform",`translate(${p.density[0]},${p.density[1]}) rotate(-90)`)
      .attr("text-anchor","middle").attr("font-weight","bold").attr("font-size",22.5).attr("fill","#000")
      .text("Density");
  }
});
</script>
</body></html>
